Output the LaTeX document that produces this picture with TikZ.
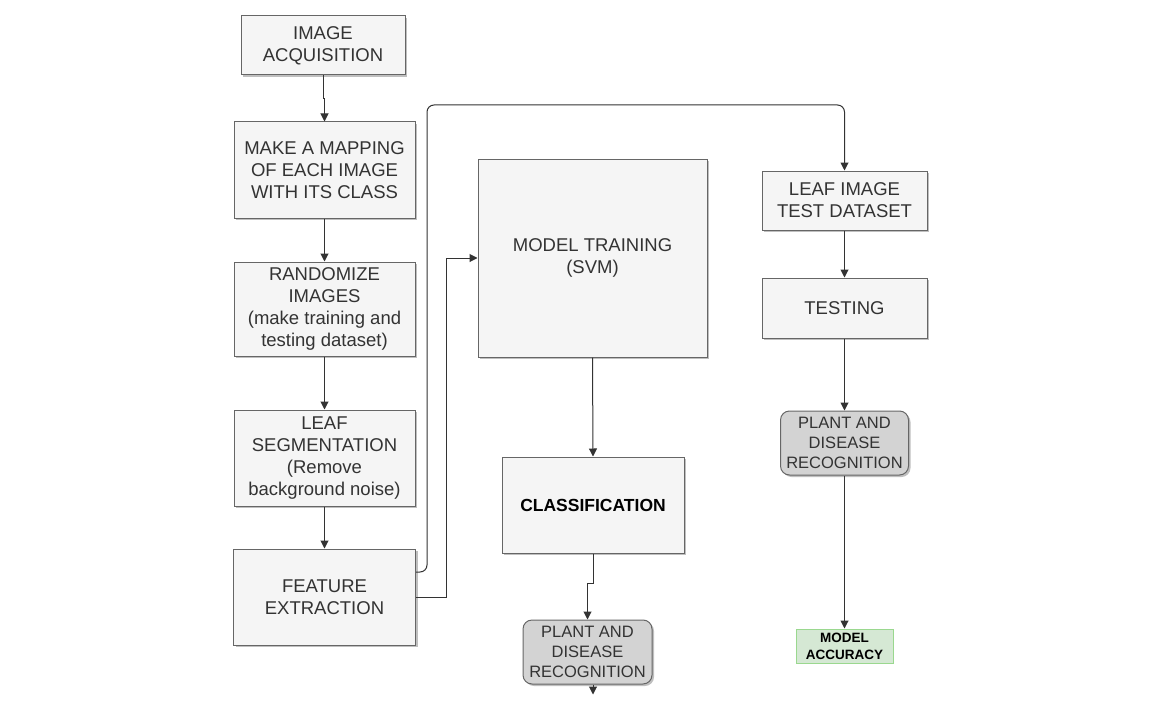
\documentclass[tikz,border=0pt]{standalone}
\usepackage{fontspec}
\setmainfont{Liberation Sans}
\usetikzlibrary{shadows,arrows.meta}
\definecolor{boxfill}{HTML}{F5F5F5}
\definecolor{boxline}{HTML}{666666}
\definecolor{txt}{HTML}{333333}
\definecolor{recfill}{HTML}{D3D3D3}
\definecolor{accfill}{HTML}{D5E8D4}
\definecolor{accline}{HTML}{9AD88F}
\definecolor{conncol}{HTML}{333333}
\tikzset{
  box/.style={draw=boxline, fill=boxfill, line width=1pt, text=txt, align=center,
    font=\fontsize{18.5}{22}\selectfont, inner sep=0pt,
    drop shadow={shadow xshift=2pt, shadow yshift=-2pt, fill=black, opacity=0.25}},
  recbox/.style={box, fill=recfill, rounded corners=9pt, font=\fontsize{16.5}{20}\selectfont},
  accbox/.style={draw=accline, fill=accfill, line width=1pt, text=black, align=center,
    font=\bfseries\fontsize{13.5}{17}\selectfont, inner sep=0pt},
  conn/.style={draw=conncol, line width=1pt, -{Triangle[length=8pt,width=8pt]}}
}
\begin{document}
\begin{tikzpicture}[x=1pt,y=-1pt]
\useasboundingbox[fill=white] (0,0) rectangle (1156,706);
\node[box, minimum width=164, minimum height=59] (acq) at (323,45.5) {IMAGE\\ACQUISITION};
\node[box, minimum width=181, minimum height=96] (map) at (324.5,170) {MAKE A MAPPING\\OF EACH IMAGE\\WITH ITS CLASS};
\node[box, minimum width=181, minimum height=94] (rand) at (324.5,309) {RANDOMIZE\\IMAGES\\(make training and\\testing dataset)};
\node[box, minimum width=181, minimum height=96] (seg) at (324.5,458) {LEAF\\SEGMENTATION\\(Remove\\background noise)};
\node[box, minimum width=182, minimum height=96] (feat) at (324.5,597) {FEATURE\\EXTRACTION};
\node[box, minimum width=229, minimum height=198] (train) at (592.5,258) {MODEL TRAINING\\(SVM)};
\node[box, minimum width=182, minimum height=96, font=\bfseries\fontsize{17.5}{22}\selectfont, text=black] (cls) at (593,505) {CLASSIFICATION};
\node[recbox, minimum width=129, minimum height=64] (recb) at (587.5,652) {PLANT AND\\DISEASE\\RECOGNITION};
\node[box, minimum width=165, minimum height=59] (test) at (844.5,200.5) {LEAF IMAGE\\TEST DATASET};
\node[box, minimum width=165, minimum height=60] (testing) at (844.5,308) {TESTING};
\node[recbox, minimum width=128, minimum height=64] (recr) at (844.5,443) {PLANT AND\\DISEASE\\RECOGNITION};
\node[accbox, minimum width=97, minimum height=34] (acc) at (844.5,646) {MODEL\\ACCURACY};
\coordinate (endb) at ([xshift=5.5pt,yshift=-10pt]recb.south);

\draw[conn] (acq.south) -- ++(0,23) -| (map.north);
\draw[conn] (map.south) -- (rand.north);
\draw[conn] (rand.south) -- (seg.north);
\draw[conn] (seg.south) -- (feat.north);
\draw[conn, rounded corners=7pt] ([yshift=25pt]feat.east) -| (427,105) -| (test.north);
\draw[conn] (feat.east) -| ([xshift=-31pt]train.west) -- (train.west);
\draw[conn] (train.south) -- (cls.north);
\draw[conn] (cls.south) -- ++(0,30) -| (recb.north);
\draw[conn] ([xshift=5.5pt]recb.south) -- (endb);
\draw[conn] (test.south) -- (testing.north);
\draw[conn] (testing.south) -- (recr.north);
\draw[conn] (recr.south) -- (acc.north);
\end{tikzpicture}
\end{document}
